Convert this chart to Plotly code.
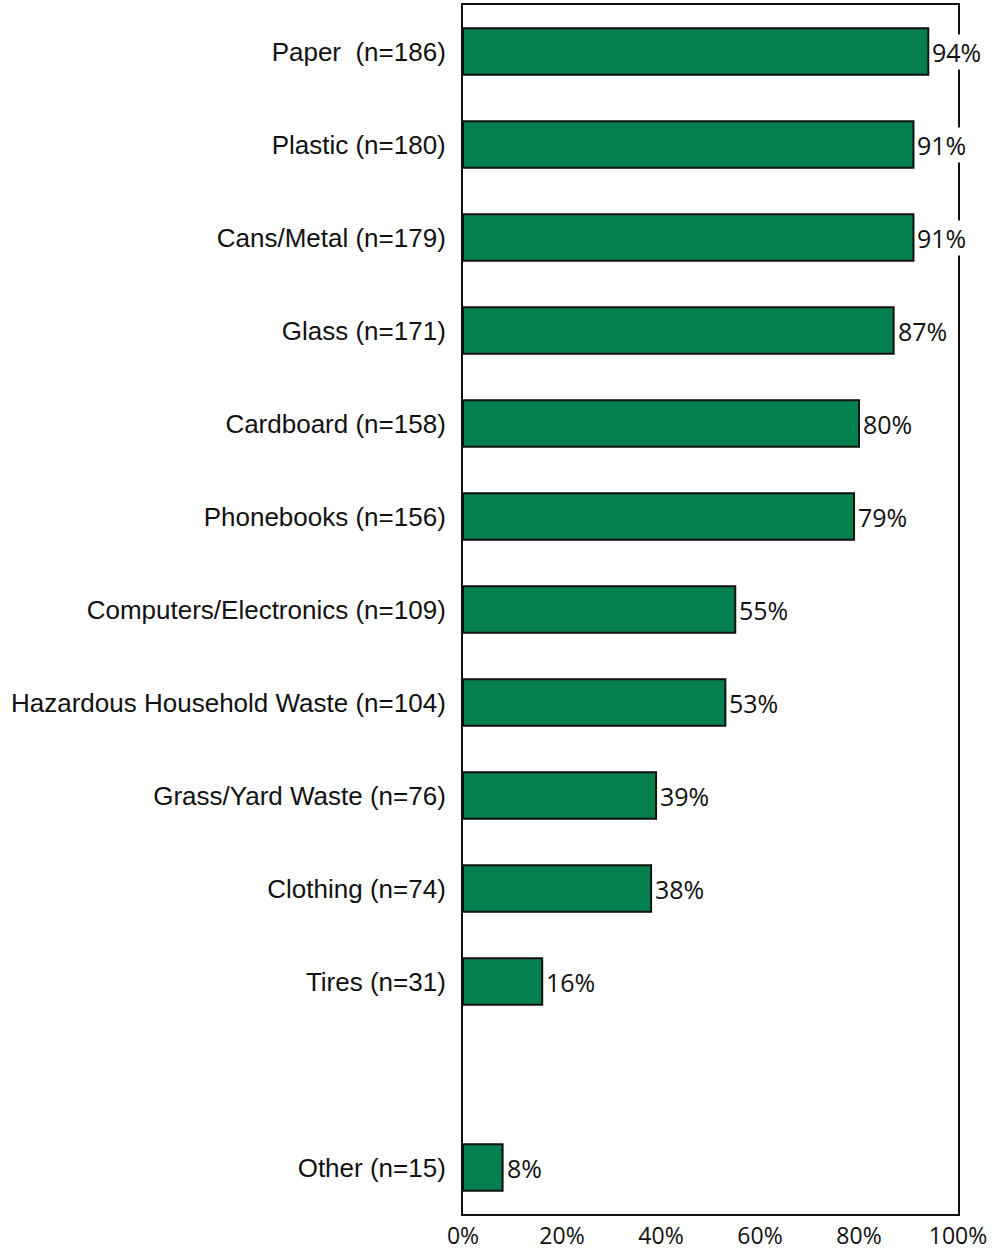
import plotly.graph_objects as go

categories = ["Paper  (n=186)", "Plastic (n=180)", "Cans/Metal (n=179)", "Glass (n=171)",
              "Cardboard (n=158)", "Phonebooks (n=156)", "Computers/Electronics (n=109)",
              "Hazardous Household Waste (n=104)", "Grass/Yard Waste (n=76)",
              "Clothing (n=74)", "Tires (n=31)", " ", "Other (n=15)"]
values = [94, 91, 91, 87, 80, 79, 55, 53, 39, 38, 16, None, 8]
tick_vals = [0, 20, 40, 60, 80, 100]
tick_text = ["0%", "20%", "40%", "60%", "80%", "100%"]

fig = go.Figure()
fig.add_trace(go.Bar(
    y=categories, x=values, orientation="h",
    marker=dict(color="#047F4E", line=dict(color="#111111", width=2)),
    hoverinfo="skip",
))

for c, v in zip(categories, values):
    if v is None:
        continue
    fig.add_annotation(x=v, y=c, text=f"{v}%", showarrow=False, xanchor="left",
                       xshift=3, bgcolor="white", borderpad=0,
                       font=dict(family="Open Sans", size=25, color="#111111"))

fig.update_layout(
    width=994, height=1251,
    margin=dict(l=463, r=36, t=5, b=37, autoexpand=False),
    paper_bgcolor="white", plot_bgcolor="white",
    bargap=0.5, showlegend=False,
    xaxis=dict(range=[0, 100], tickvals=tick_vals, ticktext=tick_text, automargin=False,
               showgrid=False, zeroline=False, showline=True, linecolor="#111111",
               linewidth=2, mirror=True, ticks="", ticklabelstandoff=0,
               tickfont=dict(family="Open Sans", size=23, color="#111111")),
    yaxis=dict(categoryorder="array", categoryarray=categories, autorange="reversed",
               automargin=False,
               showgrid=False, zeroline=False, showline=True, linecolor="#111111",
               linewidth=2, mirror=True, ticks="", ticklabelstandoff=10,
               tickfont=dict(family="Liberation Sans", size=26, color="#111111")),
)

fig.write_html("out.html", config={"displayModeBar": False})
with open("out.html", "r", encoding="utf-8") as f:
    html = f.read()
html = html.replace("<head>", "<head><style>html,body{margin:0;padding:0;overflow:hidden}</style>", 1)
with open("out.html", "w", encoding="utf-8") as f:
    f.write(html)
